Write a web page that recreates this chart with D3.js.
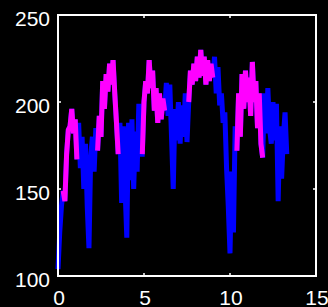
<!DOCTYPE html>
<meta charset="utf-8">
<head>
  <meta charset="utf-8">
  <title>Signal</title>
</head>
<style>
body { margin: 0; background: #000; }
svg { display: block; }
.tick-label { font-family: 'Liberation Sans', Arial, sans-serif; font-size: 21px; fill: #fff; }
</style>
<body>
<div class='chart'></div>

<script src="https://cdn.jsdelivr.net/npm/d3@7"></script>
<script>

// values, one every 0.1 on x
var xStep = 0.1
var yValues = [
  104, 125, 140, 149, 143, 170, 184, 186, 196, 182,
  190, 167, 188, 162, 180, 150, 176, 140, 116, 168,
  180, 160, 185, 172, 192, 180, 212, 196, 216, 206,
  222, 210, 224, 205, 188, 170, 188, 142, 186, 150,
  122, 188, 155, 190, 150, 183, 160, 199, 170, 170,
  200, 212, 205, 224, 208, 218, 195, 208, 188, 205,
  190, 202, 195, 211, 192, 210, 180, 150, 196, 178,
  200, 176, 198, 180, 205, 177, 200, 218, 210, 222,
  212, 226, 214, 230, 215, 226, 210, 224, 212, 222,
  214, 226, 205, 220, 198, 205, 188, 194, 162, 140,
  113, 160, 125, 186, 172, 205, 180, 216, 196, 218,
  200, 214, 192, 223, 200, 212, 185, 205, 176, 168,
  205, 182, 208, 185, 176, 200, 178, 199, 143, 186,
  156, 180, 194, 170
]
// stretches of x drawn in magenta, the rest is blue
var magentaRanges = [[0.3, 1.1], [2.3, 3.5], [4.9, 6.2], [7.6, 9.0], [10.4, 11.9]]
var xTicks = [0, 5, 10, 15]
var yTicks = [100, 150, 200, 250]

var width = 328
var height = 307
var margin = {top: 15, right: 12, bottom: 31, left: 58}

var svg = d3.select('.chart')
    .append('svg')
    .attr('width', width)
    .attr('height', height)

var x = d3.scaleLinear().domain([0, 15]).range([margin.left, width - margin.right])
var y = d3.scaleLinear().domain([100, 250]).range([height - margin.bottom, margin.top])

var data = yValues.map(function (v, i) { return {x: +(i * xStep).toFixed(1), y: v} })

var line = d3.line()
    .x(function (d) { return x(d.x) })
    .y(function (d) { return y(d.y) })

// blue under everything, magenta pieces on top
svg.append('path')
    .datum(data)
    .attr('d', line)
    .attr('fill', 'none')
    .attr('stroke', '#0000ff')
    .attr('stroke-width', 5)

magentaRanges.forEach(function (r) {
  var part = data.filter(function (d) { return d.x >= r[0] - 1e-9 && d.x <= r[1] + 1e-9 })
  svg.append('path')
      .datum(part)
      .attr('d', line)
      .attr('fill', 'none')
      .attr('stroke', '#ff00ff')
      .attr('stroke-width', 5)
})

// the box round the axes
svg.append('rect')
    .attr('x', x(0))
    .attr('y', y(250))
    .attr('width', x(15) - x(0))
    .attr('height', y(100) - y(250))
    .attr('fill', 'none')
    .attr('stroke', '#fff')
    .attr('stroke-width', 2)

var tickLen = 3
xTicks.forEach(function (t) {
  svg.append('line').attr('x1', x(t)).attr('x2', x(t))
      .attr('y1', y(100)).attr('y2', y(100) - tickLen)
      .attr('stroke', '#fff').attr('stroke-width', 1.5)
  svg.append('line').attr('x1', x(t)).attr('x2', x(t))
      .attr('y1', y(250)).attr('y2', y(250) + tickLen)
      .attr('stroke', '#fff').attr('stroke-width', 1.5)
})
yTicks.forEach(function (t) {
  svg.append('line').attr('x1', x(0)).attr('x2', x(0) + tickLen)
      .attr('y1', y(t)).attr('y2', y(t))
      .attr('stroke', '#fff').attr('stroke-width', 1.5)
  svg.append('line').attr('x1', x(15)).attr('x2', x(15) - tickLen)
      .attr('y1', y(t)).attr('y2', y(t))
      .attr('stroke', '#fff').attr('stroke-width', 1.5)
})

svg.selectAll('.xlab')
    .data(xTicks)
    .enter().append('text')
    .attr('class', 'tick-label xlab')
    .attr('x', function (d) { return x(d) + 1 })
    .attr('y', y(100) + 29)
    .attr('text-anchor', 'middle')
    .text(function (d) { return d })

svg.selectAll('.ylab')
    .data(yTicks)
    .enter().append('text')
    .attr('class', 'tick-label ylab')
    .attr('x', x(0) - 8)
    .attr('y', function (d) { return y(d) + 11 })
    .attr('text-anchor', 'end')
    .text(function (d) { return d })

</script>
</body>
